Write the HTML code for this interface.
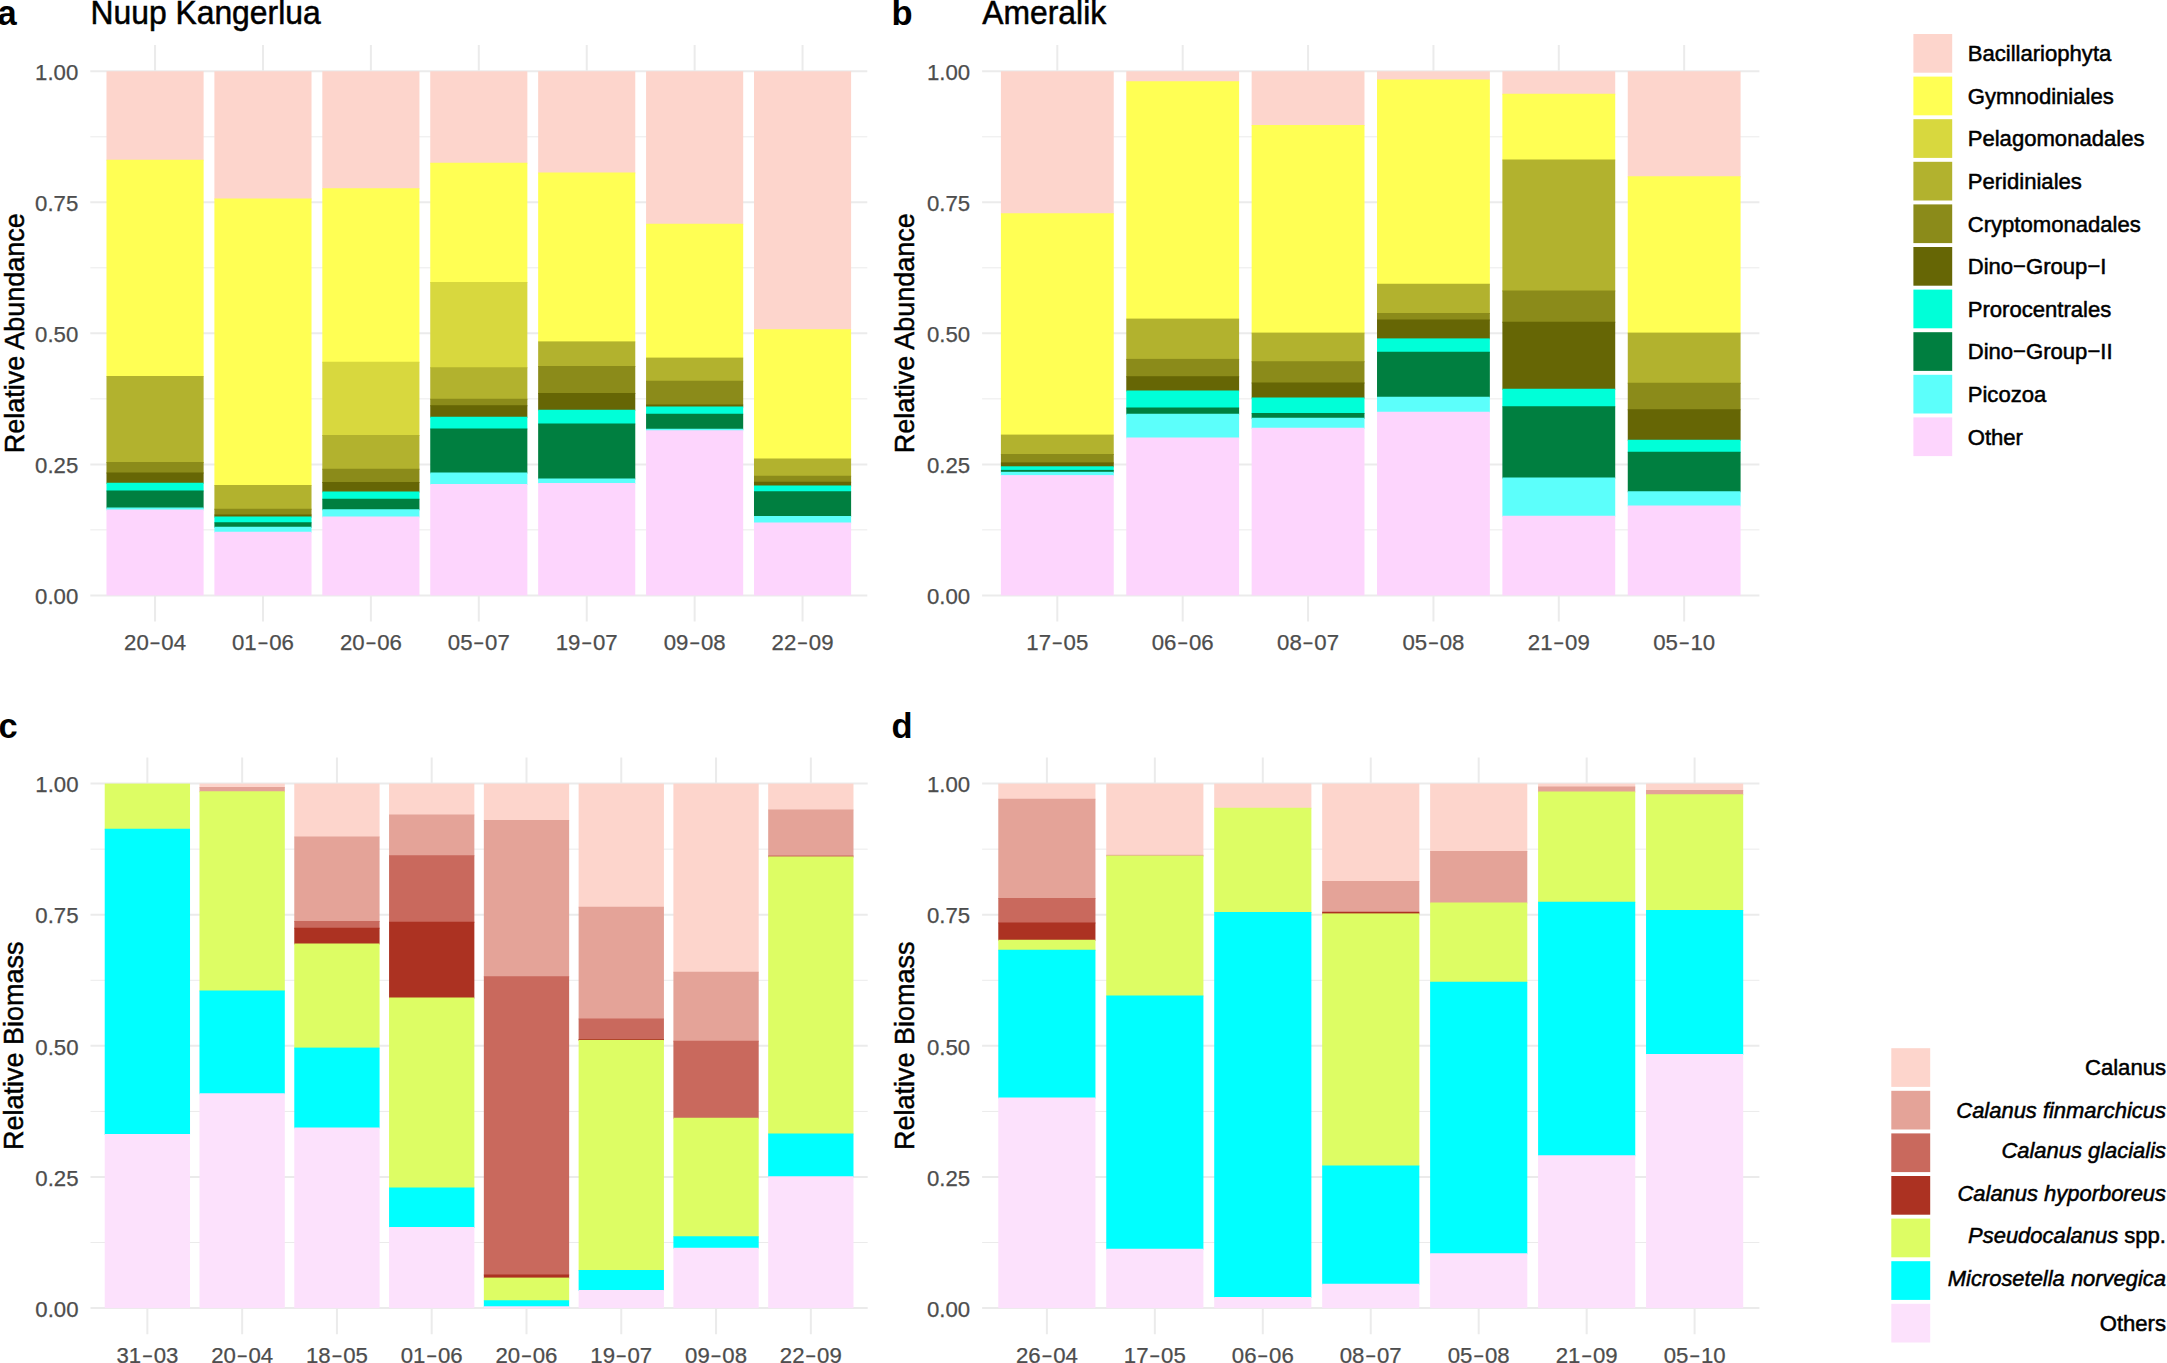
<!DOCTYPE html>
<html lang="en"><head><meta charset="utf-8"><title>Relative abundance and biomass</title>
<style>html,body{margin:0;padding:0;background:#fff}body{width:2167px;height:1363px;overflow:hidden}svg{display:block}text{font-family:"Liberation Sans",sans-serif}.tk{font-size:22.2px;fill:#4D4D4D;stroke:#4D4D4D;stroke-width:.25px}.ax{font-size:27.0px;fill:#000;stroke:#000;stroke-width:.45px}.ti{font-size:31.85px;fill:#000;stroke:#000;stroke-width:.5px}.tg{font-size:34.5px;font-weight:bold;fill:#000}.lg{font-size:22.1px;fill:#000;stroke:#000;stroke-width:.5px}.mn{font-size:17px;stroke-width:.6px}.it{font-style:italic;font-size:21.95px}</style></head><body>
<svg width="2167" height="1363" viewBox="0 0 2167 1363">
<rect x="0" y="0" width="2167" height="1363" fill="#ffffff"/>
<g>
<line x1="90.3" x2="867.3" y1="529.89" y2="529.89" stroke="#EBEBEB" stroke-width="1.0"/>
<line x1="90.3" x2="867.3" y1="398.86" y2="398.86" stroke="#EBEBEB" stroke-width="1.0"/>
<line x1="90.3" x2="867.3" y1="267.84" y2="267.84" stroke="#EBEBEB" stroke-width="1.0"/>
<line x1="90.3" x2="867.3" y1="136.81" y2="136.81" stroke="#EBEBEB" stroke-width="1.0"/>
<line x1="90.3" x2="867.3" y1="595.4" y2="595.4" stroke="#EBEBEB" stroke-width="2.0"/>
<line x1="90.3" x2="867.3" y1="464.38" y2="464.38" stroke="#EBEBEB" stroke-width="2.0"/>
<line x1="90.3" x2="867.3" y1="333.35" y2="333.35" stroke="#EBEBEB" stroke-width="2.0"/>
<line x1="90.3" x2="867.3" y1="202.32" y2="202.32" stroke="#EBEBEB" stroke-width="2.0"/>
<line x1="90.3" x2="867.3" y1="71.3" y2="71.3" stroke="#EBEBEB" stroke-width="2.0"/>
<line x1="155.05" x2="155.05" y1="45.1" y2="621.5" stroke="#EBEBEB" stroke-width="2.0"/>
<line x1="262.97" x2="262.97" y1="45.1" y2="621.5" stroke="#EBEBEB" stroke-width="2.0"/>
<line x1="370.88" x2="370.88" y1="45.1" y2="621.5" stroke="#EBEBEB" stroke-width="2.0"/>
<line x1="478.8" x2="478.8" y1="45.1" y2="621.5" stroke="#EBEBEB" stroke-width="2.0"/>
<line x1="586.72" x2="586.72" y1="45.1" y2="621.5" stroke="#EBEBEB" stroke-width="2.0"/>
<line x1="694.63" x2="694.63" y1="45.1" y2="621.5" stroke="#EBEBEB" stroke-width="2.0"/>
<line x1="802.55" x2="802.55" y1="45.1" y2="621.5" stroke="#EBEBEB" stroke-width="2.0"/>
<rect x="106.49" y="71.3" width="97.12" height="89.45" fill="#FDD5CC"/>
<rect x="106.49" y="159.75" width="97.12" height="217.25" fill="#FFFF54"/>
<rect x="106.49" y="376" width="97.12" height="87" fill="#B2B22E"/>
<rect x="106.49" y="462" width="97.12" height="11.5" fill="#8B8B1A"/>
<rect x="106.49" y="472.5" width="97.12" height="11.25" fill="#666605"/>
<rect x="106.49" y="482.75" width="97.12" height="8.75" fill="#00FFD8"/>
<rect x="106.49" y="490.5" width="97.12" height="18" fill="#007F40"/>
<rect x="106.49" y="507.5" width="97.12" height="3" fill="#5CFFFB"/>
<rect x="106.49" y="509.5" width="97.12" height="85.9" fill="#FDD5FD"/>
<rect x="214.4" y="71.3" width="97.12" height="128.2" fill="#FDD5CC"/>
<rect x="214.4" y="198.5" width="97.12" height="287.5" fill="#FFFF54"/>
<rect x="214.4" y="485" width="97.12" height="24.75" fill="#B2B22E"/>
<rect x="214.4" y="508.75" width="97.12" height="6.75" fill="#8B8B1A"/>
<rect x="214.4" y="514.5" width="97.12" height="3" fill="#666605"/>
<rect x="214.4" y="516.5" width="97.12" height="6.75" fill="#00FFD8"/>
<rect x="214.4" y="522.25" width="97.12" height="5.5" fill="#007F40"/>
<rect x="214.4" y="526.75" width="97.12" height="6" fill="#5CFFFB"/>
<rect x="214.4" y="531.75" width="97.12" height="63.65" fill="#FDD5FD"/>
<rect x="322.32" y="71.3" width="97.12" height="117.95" fill="#FDD5CC"/>
<rect x="322.32" y="188.25" width="97.12" height="174.5" fill="#FFFF54"/>
<rect x="322.32" y="361.75" width="97.12" height="74.25" fill="#D8D83E"/>
<rect x="322.32" y="435" width="97.12" height="34.75" fill="#B2B22E"/>
<rect x="322.32" y="468.75" width="97.12" height="14.25" fill="#8B8B1A"/>
<rect x="322.32" y="482" width="97.12" height="10.5" fill="#666605"/>
<rect x="322.32" y="491.5" width="97.12" height="8.25" fill="#00FFD8"/>
<rect x="322.32" y="498.75" width="97.12" height="11.5" fill="#007F40"/>
<rect x="322.32" y="509.25" width="97.12" height="8.25" fill="#5CFFFB"/>
<rect x="322.32" y="516.5" width="97.12" height="78.9" fill="#FDD5FD"/>
<rect x="430.24" y="71.3" width="97.12" height="92.45" fill="#FDD5CC"/>
<rect x="430.24" y="162.75" width="97.12" height="120.25" fill="#FFFF54"/>
<rect x="430.24" y="282" width="97.12" height="86.25" fill="#D8D83E"/>
<rect x="430.24" y="367.25" width="97.12" height="32.5" fill="#B2B22E"/>
<rect x="430.24" y="398.75" width="97.12" height="7.5" fill="#8B8B1A"/>
<rect x="430.24" y="405.25" width="97.12" height="12.5" fill="#666605"/>
<rect x="430.24" y="416.75" width="97.12" height="12.75" fill="#00FFD8"/>
<rect x="430.24" y="428.5" width="97.12" height="45" fill="#007F40"/>
<rect x="430.24" y="472.5" width="97.12" height="12.5" fill="#5CFFFB"/>
<rect x="430.24" y="484" width="97.12" height="111.4" fill="#FDD5FD"/>
<rect x="538.15" y="71.3" width="97.12" height="102.2" fill="#FDD5CC"/>
<rect x="538.15" y="172.5" width="97.12" height="169.9" fill="#FFFF54"/>
<rect x="538.15" y="341.4" width="97.12" height="25.6" fill="#B2B22E"/>
<rect x="538.15" y="366" width="97.12" height="28" fill="#8B8B1A"/>
<rect x="538.15" y="393" width="97.12" height="17.75" fill="#666605"/>
<rect x="538.15" y="409.75" width="97.12" height="14.75" fill="#00FFD8"/>
<rect x="538.15" y="423.5" width="97.12" height="56" fill="#007F40"/>
<rect x="538.15" y="478.5" width="97.12" height="5.5" fill="#5CFFFB"/>
<rect x="538.15" y="483" width="97.12" height="112.4" fill="#FDD5FD"/>
<rect x="646.07" y="71.3" width="97.12" height="153.45" fill="#FDD5CC"/>
<rect x="646.07" y="223.75" width="97.12" height="134.85" fill="#FFFF54"/>
<rect x="646.07" y="357.6" width="97.12" height="24.15" fill="#B2B22E"/>
<rect x="646.07" y="380.75" width="97.12" height="24.75" fill="#8B8B1A"/>
<rect x="646.07" y="404.5" width="97.12" height="3" fill="#666605"/>
<rect x="646.07" y="406.5" width="97.12" height="8.25" fill="#00FFD8"/>
<rect x="646.07" y="413.75" width="97.12" height="16" fill="#007F40"/>
<rect x="646.07" y="428.75" width="97.12" height="2.5" fill="#5CFFFB"/>
<rect x="646.07" y="430.25" width="97.12" height="165.15" fill="#FDD5FD"/>
<rect x="753.99" y="71.3" width="97.12" height="258.95" fill="#FDD5CC"/>
<rect x="753.99" y="329.25" width="97.12" height="130.25" fill="#FFFF54"/>
<rect x="753.99" y="458.5" width="97.12" height="18.25" fill="#B2B22E"/>
<rect x="753.99" y="475.75" width="97.12" height="7" fill="#8B8B1A"/>
<rect x="753.99" y="481.75" width="97.12" height="4.75" fill="#666605"/>
<rect x="753.99" y="485.5" width="97.12" height="6.75" fill="#00FFD8"/>
<rect x="753.99" y="491.25" width="97.12" height="25.75" fill="#007F40"/>
<rect x="753.99" y="516" width="97.12" height="7.5" fill="#5CFFFB"/>
<rect x="753.99" y="522.5" width="97.12" height="72.9" fill="#FDD5FD"/>
<text class="tk" x="78.3" y="604.1" text-anchor="end">0.00</text>
<text class="tk" x="78.3" y="473.07" text-anchor="end">0.25</text>
<text class="tk" x="78.3" y="342.05" text-anchor="end">0.50</text>
<text class="tk" x="78.3" y="211.02" text-anchor="end">0.75</text>
<text class="tk" x="78.3" y="80" text-anchor="end">1.00</text>
<text class="tk" x="155.05" y="650.2" text-anchor="middle">20<tspan class="mn" dx="1.3" dy="-0.9">−</tspan><tspan dx="1.3" dy="0.9">04</tspan></text>
<text class="tk" x="262.97" y="650.2" text-anchor="middle">01<tspan class="mn" dx="1.3" dy="-0.9">−</tspan><tspan dx="1.3" dy="0.9">06</tspan></text>
<text class="tk" x="370.88" y="650.2" text-anchor="middle">20<tspan class="mn" dx="1.3" dy="-0.9">−</tspan><tspan dx="1.3" dy="0.9">06</tspan></text>
<text class="tk" x="478.8" y="650.2" text-anchor="middle">05<tspan class="mn" dx="1.3" dy="-0.9">−</tspan><tspan dx="1.3" dy="0.9">07</tspan></text>
<text class="tk" x="586.72" y="650.2" text-anchor="middle">19<tspan class="mn" dx="1.3" dy="-0.9">−</tspan><tspan dx="1.3" dy="0.9">07</tspan></text>
<text class="tk" x="694.63" y="650.2" text-anchor="middle">09<tspan class="mn" dx="1.3" dy="-0.9">−</tspan><tspan dx="1.3" dy="0.9">08</tspan></text>
<text class="tk" x="802.55" y="650.2" text-anchor="middle">22<tspan class="mn" dx="1.3" dy="-0.9">−</tspan><tspan dx="1.3" dy="0.9">09</tspan></text>
<text class="ax" transform="translate(23.5,333.3) rotate(-90) scale(1,1.04)" text-anchor="middle">Relative Abundance</text>
<text class="tg" x="-2.4" y="24.7">a</text>
<text class="ti" transform="translate(90.5,23.8) scale(1,1.04)">Nuup Kangerlua</text>
</g>
<g>
<line x1="982.1" x2="1759.4" y1="529.89" y2="529.89" stroke="#EBEBEB" stroke-width="1.0"/>
<line x1="982.1" x2="1759.4" y1="398.86" y2="398.86" stroke="#EBEBEB" stroke-width="1.0"/>
<line x1="982.1" x2="1759.4" y1="267.84" y2="267.84" stroke="#EBEBEB" stroke-width="1.0"/>
<line x1="982.1" x2="1759.4" y1="136.81" y2="136.81" stroke="#EBEBEB" stroke-width="1.0"/>
<line x1="982.1" x2="1759.4" y1="595.4" y2="595.4" stroke="#EBEBEB" stroke-width="2.0"/>
<line x1="982.1" x2="1759.4" y1="464.38" y2="464.38" stroke="#EBEBEB" stroke-width="2.0"/>
<line x1="982.1" x2="1759.4" y1="333.35" y2="333.35" stroke="#EBEBEB" stroke-width="2.0"/>
<line x1="982.1" x2="1759.4" y1="202.32" y2="202.32" stroke="#EBEBEB" stroke-width="2.0"/>
<line x1="982.1" x2="1759.4" y1="71.3" y2="71.3" stroke="#EBEBEB" stroke-width="2.0"/>
<line x1="1057.32" x2="1057.32" y1="45.1" y2="621.5" stroke="#EBEBEB" stroke-width="2.0"/>
<line x1="1182.69" x2="1182.69" y1="45.1" y2="621.5" stroke="#EBEBEB" stroke-width="2.0"/>
<line x1="1308.06" x2="1308.06" y1="45.1" y2="621.5" stroke="#EBEBEB" stroke-width="2.0"/>
<line x1="1433.44" x2="1433.44" y1="45.1" y2="621.5" stroke="#EBEBEB" stroke-width="2.0"/>
<line x1="1558.81" x2="1558.81" y1="45.1" y2="621.5" stroke="#EBEBEB" stroke-width="2.0"/>
<line x1="1684.18" x2="1684.18" y1="45.1" y2="621.5" stroke="#EBEBEB" stroke-width="2.0"/>
<rect x="1000.91" y="71.3" width="112.83" height="142.95" fill="#FDD5CC"/>
<rect x="1000.91" y="213.25" width="112.83" height="222.35" fill="#FFFF54"/>
<rect x="1000.91" y="434.6" width="112.83" height="20.4" fill="#B2B22E"/>
<rect x="1000.91" y="454" width="112.83" height="9.4" fill="#8B8B1A"/>
<rect x="1000.91" y="462.4" width="112.83" height="4.9" fill="#666605"/>
<rect x="1000.91" y="466.3" width="112.83" height="4.6" fill="#00FFD8"/>
<rect x="1000.91" y="469.9" width="112.83" height="2.9" fill="#007F40"/>
<rect x="1000.91" y="471.8" width="112.83" height="4.3" fill="#5CFFFB"/>
<rect x="1000.91" y="475.1" width="112.83" height="120.3" fill="#FDD5FD"/>
<rect x="1126.28" y="71.3" width="112.83" height="10.95" fill="#FDD5CC"/>
<rect x="1126.28" y="81.25" width="112.83" height="238.35" fill="#FFFF54"/>
<rect x="1126.28" y="318.6" width="112.83" height="41.3" fill="#B2B22E"/>
<rect x="1126.28" y="358.9" width="112.83" height="18.35" fill="#8B8B1A"/>
<rect x="1126.28" y="376.25" width="112.83" height="15.25" fill="#666605"/>
<rect x="1126.28" y="390.5" width="112.83" height="18" fill="#00FFD8"/>
<rect x="1126.28" y="407.5" width="112.83" height="7.25" fill="#007F40"/>
<rect x="1126.28" y="413.75" width="112.83" height="24.75" fill="#5CFFFB"/>
<rect x="1126.28" y="437.5" width="112.83" height="157.9" fill="#FDD5FD"/>
<rect x="1251.65" y="71.3" width="112.83" height="54.7" fill="#FDD5CC"/>
<rect x="1251.65" y="125" width="112.83" height="208.6" fill="#FFFF54"/>
<rect x="1251.65" y="332.6" width="112.83" height="29.65" fill="#B2B22E"/>
<rect x="1251.65" y="361.25" width="112.83" height="22.25" fill="#8B8B1A"/>
<rect x="1251.65" y="382.5" width="112.83" height="16" fill="#666605"/>
<rect x="1251.65" y="397.5" width="112.83" height="16.5" fill="#00FFD8"/>
<rect x="1251.65" y="413" width="112.83" height="5.75" fill="#007F40"/>
<rect x="1251.65" y="417.75" width="112.83" height="11" fill="#5CFFFB"/>
<rect x="1251.65" y="427.75" width="112.83" height="167.65" fill="#FDD5FD"/>
<rect x="1377.02" y="71.3" width="112.83" height="9.2" fill="#FDD5CC"/>
<rect x="1377.02" y="79.5" width="112.83" height="205.25" fill="#FFFF54"/>
<rect x="1377.02" y="283.75" width="112.83" height="30.25" fill="#B2B22E"/>
<rect x="1377.02" y="313" width="112.83" height="7.5" fill="#8B8B1A"/>
<rect x="1377.02" y="319.5" width="112.83" height="19.9" fill="#666605"/>
<rect x="1377.02" y="338.4" width="112.83" height="14.35" fill="#00FFD8"/>
<rect x="1377.02" y="351.75" width="112.83" height="46" fill="#007F40"/>
<rect x="1377.02" y="396.75" width="112.83" height="16" fill="#5CFFFB"/>
<rect x="1377.02" y="411.75" width="112.83" height="183.65" fill="#FDD5FD"/>
<rect x="1502.39" y="71.3" width="112.83" height="23.45" fill="#FDD5CC"/>
<rect x="1502.39" y="93.75" width="112.83" height="66.75" fill="#FFFF54"/>
<rect x="1502.39" y="159.5" width="112.83" height="132" fill="#B2B22E"/>
<rect x="1502.39" y="290.5" width="112.83" height="32.25" fill="#8B8B1A"/>
<rect x="1502.39" y="321.75" width="112.83" height="68" fill="#666605"/>
<rect x="1502.39" y="388.75" width="112.83" height="18.5" fill="#00FFD8"/>
<rect x="1502.39" y="406.25" width="112.83" height="72.25" fill="#007F40"/>
<rect x="1502.39" y="477.5" width="112.83" height="39.25" fill="#5CFFFB"/>
<rect x="1502.39" y="515.75" width="112.83" height="79.65" fill="#FDD5FD"/>
<rect x="1627.76" y="71.3" width="112.83" height="105.95" fill="#FDD5CC"/>
<rect x="1627.76" y="176.25" width="112.83" height="157.35" fill="#FFFF54"/>
<rect x="1627.76" y="332.6" width="112.83" height="51.15" fill="#B2B22E"/>
<rect x="1627.76" y="382.75" width="112.83" height="27.5" fill="#8B8B1A"/>
<rect x="1627.76" y="409.25" width="112.83" height="31.5" fill="#666605"/>
<rect x="1627.76" y="439.75" width="112.83" height="13" fill="#00FFD8"/>
<rect x="1627.76" y="451.75" width="112.83" height="40.5" fill="#007F40"/>
<rect x="1627.76" y="491.25" width="112.83" height="15.25" fill="#5CFFFB"/>
<rect x="1627.76" y="505.5" width="112.83" height="89.9" fill="#FDD5FD"/>
<text class="tk" x="970.1" y="604.1" text-anchor="end">0.00</text>
<text class="tk" x="970.1" y="473.07" text-anchor="end">0.25</text>
<text class="tk" x="970.1" y="342.05" text-anchor="end">0.50</text>
<text class="tk" x="970.1" y="211.02" text-anchor="end">0.75</text>
<text class="tk" x="970.1" y="80" text-anchor="end">1.00</text>
<text class="tk" x="1057.32" y="650.2" text-anchor="middle">17<tspan class="mn" dx="1.3" dy="-0.9">−</tspan><tspan dx="1.3" dy="0.9">05</tspan></text>
<text class="tk" x="1182.69" y="650.2" text-anchor="middle">06<tspan class="mn" dx="1.3" dy="-0.9">−</tspan><tspan dx="1.3" dy="0.9">06</tspan></text>
<text class="tk" x="1308.06" y="650.2" text-anchor="middle">08<tspan class="mn" dx="1.3" dy="-0.9">−</tspan><tspan dx="1.3" dy="0.9">07</tspan></text>
<text class="tk" x="1433.44" y="650.2" text-anchor="middle">05<tspan class="mn" dx="1.3" dy="-0.9">−</tspan><tspan dx="1.3" dy="0.9">08</tspan></text>
<text class="tk" x="1558.81" y="650.2" text-anchor="middle">21<tspan class="mn" dx="1.3" dy="-0.9">−</tspan><tspan dx="1.3" dy="0.9">09</tspan></text>
<text class="tk" x="1684.18" y="650.2" text-anchor="middle">05<tspan class="mn" dx="1.3" dy="-0.9">−</tspan><tspan dx="1.3" dy="0.9">10</tspan></text>
<text class="ax" transform="translate(914.1,333.3) rotate(-90) scale(1,1.04)" text-anchor="middle">Relative Abundance</text>
<text class="tg" x="891.4" y="24.7">b</text>
<text class="ti" transform="translate(982.3,23.8) scale(1,1.04)">Ameralik</text>
</g>
<g>
<line x1="90.5" x2="867.7" y1="1242.54" y2="1242.54" stroke="#EBEBEB" stroke-width="1.0"/>
<line x1="90.5" x2="867.7" y1="1111.41" y2="1111.41" stroke="#EBEBEB" stroke-width="1.0"/>
<line x1="90.5" x2="867.7" y1="980.29" y2="980.29" stroke="#EBEBEB" stroke-width="1.0"/>
<line x1="90.5" x2="867.7" y1="849.16" y2="849.16" stroke="#EBEBEB" stroke-width="1.0"/>
<line x1="90.5" x2="867.7" y1="1308.1" y2="1308.1" stroke="#EBEBEB" stroke-width="2.0"/>
<line x1="90.5" x2="867.7" y1="1176.97" y2="1176.97" stroke="#EBEBEB" stroke-width="2.0"/>
<line x1="90.5" x2="867.7" y1="1045.85" y2="1045.85" stroke="#EBEBEB" stroke-width="2.0"/>
<line x1="90.5" x2="867.7" y1="914.73" y2="914.73" stroke="#EBEBEB" stroke-width="2.0"/>
<line x1="90.5" x2="867.7" y1="783.6" y2="783.6" stroke="#EBEBEB" stroke-width="2.0"/>
<line x1="147.37" x2="147.37" y1="757.4" y2="1334.3" stroke="#EBEBEB" stroke-width="2.0"/>
<line x1="242.15" x2="242.15" y1="757.4" y2="1334.3" stroke="#EBEBEB" stroke-width="2.0"/>
<line x1="336.93" x2="336.93" y1="757.4" y2="1334.3" stroke="#EBEBEB" stroke-width="2.0"/>
<line x1="431.71" x2="431.71" y1="757.4" y2="1334.3" stroke="#EBEBEB" stroke-width="2.0"/>
<line x1="526.49" x2="526.49" y1="757.4" y2="1334.3" stroke="#EBEBEB" stroke-width="2.0"/>
<line x1="621.27" x2="621.27" y1="757.4" y2="1334.3" stroke="#EBEBEB" stroke-width="2.0"/>
<line x1="716.05" x2="716.05" y1="757.4" y2="1334.3" stroke="#EBEBEB" stroke-width="2.0"/>
<line x1="810.83" x2="810.83" y1="757.4" y2="1334.3" stroke="#EBEBEB" stroke-width="2.0"/>
<rect x="104.72" y="783.6" width="85.3" height="46.15" fill="#DDFD64"/>
<rect x="104.72" y="828.75" width="85.3" height="306.25" fill="#00FFFF"/>
<rect x="104.72" y="1134" width="85.3" height="174.1" fill="#FCE1FC"/>
<rect x="199.5" y="783.6" width="85.3" height="4.4" fill="#FDD5CC"/>
<rect x="199.5" y="787" width="85.3" height="5.25" fill="#E4A398"/>
<rect x="199.5" y="791.25" width="85.3" height="200.25" fill="#DDFD64"/>
<rect x="199.5" y="990.5" width="85.3" height="103.75" fill="#00FFFF"/>
<rect x="199.5" y="1093.25" width="85.3" height="214.85" fill="#FCE1FC"/>
<rect x="294.28" y="783.6" width="85.3" height="53.9" fill="#FDD5CC"/>
<rect x="294.28" y="836.5" width="85.3" height="85.5" fill="#E4A398"/>
<rect x="294.28" y="921" width="85.3" height="7.75" fill="#C9695D"/>
<rect x="294.28" y="927.75" width="85.3" height="16.75" fill="#AC3222"/>
<rect x="294.28" y="943.5" width="85.3" height="105.1" fill="#DDFD64"/>
<rect x="294.28" y="1047.6" width="85.3" height="80.9" fill="#00FFFF"/>
<rect x="294.28" y="1127.5" width="85.3" height="180.6" fill="#FCE1FC"/>
<rect x="389.06" y="783.6" width="85.3" height="31.9" fill="#FDD5CC"/>
<rect x="389.06" y="814.5" width="85.3" height="41.75" fill="#E4A398"/>
<rect x="389.06" y="855.25" width="85.3" height="67.5" fill="#C9695D"/>
<rect x="389.06" y="921.75" width="85.3" height="76.75" fill="#AC3222"/>
<rect x="389.06" y="997.5" width="85.3" height="191" fill="#DDFD64"/>
<rect x="389.06" y="1187.5" width="85.3" height="40.5" fill="#00FFFF"/>
<rect x="389.06" y="1227" width="85.3" height="81.1" fill="#FCE1FC"/>
<rect x="483.84" y="783.6" width="85.3" height="37.4" fill="#FDD5CC"/>
<rect x="483.84" y="820" width="85.3" height="157.25" fill="#E4A398"/>
<rect x="483.84" y="976.25" width="85.3" height="299.25" fill="#C9695D"/>
<rect x="483.84" y="1274.5" width="85.3" height="4.1" fill="#AC3222"/>
<rect x="483.84" y="1277.6" width="85.3" height="23.65" fill="#DDFD64"/>
<rect x="483.84" y="1300.25" width="85.3" height="7" fill="#00FFFF"/>
<rect x="483.84" y="1306.25" width="85.3" height="1.85" fill="#FCE1FC"/>
<rect x="578.62" y="783.6" width="85.3" height="124.15" fill="#FDD5CC"/>
<rect x="578.62" y="906.75" width="85.3" height="112.75" fill="#E4A398"/>
<rect x="578.62" y="1018.5" width="85.3" height="21.5" fill="#C9695D"/>
<rect x="578.62" y="1039" width="85.3" height="1.9" fill="#AC3222"/>
<rect x="578.62" y="1039.9" width="85.3" height="231.1" fill="#DDFD64"/>
<rect x="578.62" y="1270" width="85.3" height="21" fill="#00FFFF"/>
<rect x="578.62" y="1290" width="85.3" height="18.1" fill="#FCE1FC"/>
<rect x="673.4" y="783.6" width="85.3" height="189.15" fill="#FDD5CC"/>
<rect x="673.4" y="971.75" width="85.3" height="70" fill="#E4A398"/>
<rect x="673.4" y="1040.75" width="85.3" height="78" fill="#C9695D"/>
<rect x="673.4" y="1117.75" width="85.3" height="119.5" fill="#DDFD64"/>
<rect x="673.4" y="1236.25" width="85.3" height="12.5" fill="#00FFFF"/>
<rect x="673.4" y="1247.75" width="85.3" height="60.35" fill="#FCE1FC"/>
<rect x="768.18" y="783.6" width="85.3" height="26.9" fill="#FDD5CC"/>
<rect x="768.18" y="809.5" width="85.3" height="47" fill="#E4A398"/>
<rect x="768.18" y="855.5" width="85.3" height="2" fill="#C9695D"/>
<rect x="768.18" y="856.5" width="85.3" height="278" fill="#DDFD64"/>
<rect x="768.18" y="1133.5" width="85.3" height="43.75" fill="#00FFFF"/>
<rect x="768.18" y="1176.25" width="85.3" height="131.85" fill="#FCE1FC"/>
<text class="tk" x="78.5" y="1316.8" text-anchor="end">0.00</text>
<text class="tk" x="78.5" y="1185.67" text-anchor="end">0.25</text>
<text class="tk" x="78.5" y="1054.55" text-anchor="end">0.50</text>
<text class="tk" x="78.5" y="923.43" text-anchor="end">0.75</text>
<text class="tk" x="78.5" y="792.3" text-anchor="end">1.00</text>
<text class="tk" x="147.37" y="1362.5" text-anchor="middle">31<tspan class="mn" dx="1.3" dy="-0.9">−</tspan><tspan dx="1.3" dy="0.9">03</tspan></text>
<text class="tk" x="242.15" y="1362.5" text-anchor="middle">20<tspan class="mn" dx="1.3" dy="-0.9">−</tspan><tspan dx="1.3" dy="0.9">04</tspan></text>
<text class="tk" x="336.93" y="1362.5" text-anchor="middle">18<tspan class="mn" dx="1.3" dy="-0.9">−</tspan><tspan dx="1.3" dy="0.9">05</tspan></text>
<text class="tk" x="431.71" y="1362.5" text-anchor="middle">01<tspan class="mn" dx="1.3" dy="-0.9">−</tspan><tspan dx="1.3" dy="0.9">06</tspan></text>
<text class="tk" x="526.49" y="1362.5" text-anchor="middle">20<tspan class="mn" dx="1.3" dy="-0.9">−</tspan><tspan dx="1.3" dy="0.9">06</tspan></text>
<text class="tk" x="621.27" y="1362.5" text-anchor="middle">19<tspan class="mn" dx="1.3" dy="-0.9">−</tspan><tspan dx="1.3" dy="0.9">07</tspan></text>
<text class="tk" x="716.05" y="1362.5" text-anchor="middle">09<tspan class="mn" dx="1.3" dy="-0.9">−</tspan><tspan dx="1.3" dy="0.9">08</tspan></text>
<text class="tk" x="810.83" y="1362.5" text-anchor="middle">22<tspan class="mn" dx="1.3" dy="-0.9">−</tspan><tspan dx="1.3" dy="0.9">09</tspan></text>
<text class="ax" transform="translate(23,1045.85) rotate(-90) scale(1,1.04)" text-anchor="middle">Relative Biomass</text>
<text class="tg" x="-1.6" y="737.8">c</text>
</g>
<g>
<line x1="982.1" x2="1759.4" y1="1242.54" y2="1242.54" stroke="#EBEBEB" stroke-width="1.0"/>
<line x1="982.1" x2="1759.4" y1="1111.41" y2="1111.41" stroke="#EBEBEB" stroke-width="1.0"/>
<line x1="982.1" x2="1759.4" y1="980.29" y2="980.29" stroke="#EBEBEB" stroke-width="1.0"/>
<line x1="982.1" x2="1759.4" y1="849.16" y2="849.16" stroke="#EBEBEB" stroke-width="1.0"/>
<line x1="982.1" x2="1759.4" y1="1308.1" y2="1308.1" stroke="#EBEBEB" stroke-width="2.0"/>
<line x1="982.1" x2="1759.4" y1="1176.97" y2="1176.97" stroke="#EBEBEB" stroke-width="2.0"/>
<line x1="982.1" x2="1759.4" y1="1045.85" y2="1045.85" stroke="#EBEBEB" stroke-width="2.0"/>
<line x1="982.1" x2="1759.4" y1="914.73" y2="914.73" stroke="#EBEBEB" stroke-width="2.0"/>
<line x1="982.1" x2="1759.4" y1="783.6" y2="783.6" stroke="#EBEBEB" stroke-width="2.0"/>
<line x1="1046.88" x2="1046.88" y1="757.4" y2="1334.3" stroke="#EBEBEB" stroke-width="2.0"/>
<line x1="1154.83" x2="1154.83" y1="757.4" y2="1334.3" stroke="#EBEBEB" stroke-width="2.0"/>
<line x1="1262.79" x2="1262.79" y1="757.4" y2="1334.3" stroke="#EBEBEB" stroke-width="2.0"/>
<line x1="1370.75" x2="1370.75" y1="757.4" y2="1334.3" stroke="#EBEBEB" stroke-width="2.0"/>
<line x1="1478.71" x2="1478.71" y1="757.4" y2="1334.3" stroke="#EBEBEB" stroke-width="2.0"/>
<line x1="1586.67" x2="1586.67" y1="757.4" y2="1334.3" stroke="#EBEBEB" stroke-width="2.0"/>
<line x1="1694.62" x2="1694.62" y1="757.4" y2="1334.3" stroke="#EBEBEB" stroke-width="2.0"/>
<rect x="998.29" y="783.6" width="97.16" height="16.15" fill="#FDD5CC"/>
<rect x="998.29" y="798.75" width="97.16" height="100.25" fill="#E4A398"/>
<rect x="998.29" y="898" width="97.16" height="25.5" fill="#C9695D"/>
<rect x="998.29" y="922.5" width="97.16" height="18.25" fill="#AC3222"/>
<rect x="998.29" y="939.75" width="97.16" height="11" fill="#DDFD64"/>
<rect x="998.29" y="949.75" width="97.16" height="148.75" fill="#00FFFF"/>
<rect x="998.29" y="1097.5" width="97.16" height="210.6" fill="#FCE1FC"/>
<rect x="1106.25" y="783.6" width="97.16" height="72.2" fill="#FDD5CC"/>
<rect x="1106.25" y="854.8" width="97.16" height="1.8" fill="#E4A398"/>
<rect x="1106.25" y="855.6" width="97.16" height="140.9" fill="#DDFD64"/>
<rect x="1106.25" y="995.5" width="97.16" height="254.25" fill="#00FFFF"/>
<rect x="1106.25" y="1248.75" width="97.16" height="59.35" fill="#FCE1FC"/>
<rect x="1214.21" y="783.6" width="97.16" height="25.15" fill="#FDD5CC"/>
<rect x="1214.21" y="807.75" width="97.16" height="105.25" fill="#DDFD64"/>
<rect x="1214.21" y="912" width="97.16" height="386" fill="#00FFFF"/>
<rect x="1214.21" y="1297" width="97.16" height="11.1" fill="#FCE1FC"/>
<rect x="1322.17" y="783.6" width="97.16" height="98.4" fill="#FDD5CC"/>
<rect x="1322.17" y="881" width="97.16" height="31.75" fill="#E4A398"/>
<rect x="1322.17" y="911.75" width="97.16" height="2.65" fill="#AC3222"/>
<rect x="1322.17" y="913.4" width="97.16" height="253.1" fill="#DDFD64"/>
<rect x="1322.17" y="1165.5" width="97.16" height="119.25" fill="#00FFFF"/>
<rect x="1322.17" y="1283.75" width="97.16" height="24.35" fill="#FCE1FC"/>
<rect x="1430.13" y="783.6" width="97.16" height="68.4" fill="#FDD5CC"/>
<rect x="1430.13" y="851" width="97.16" height="52.5" fill="#E4A398"/>
<rect x="1430.13" y="902.5" width="97.16" height="80.25" fill="#DDFD64"/>
<rect x="1430.13" y="981.75" width="97.16" height="272.5" fill="#00FFFF"/>
<rect x="1430.13" y="1253.25" width="97.16" height="54.85" fill="#FCE1FC"/>
<rect x="1538.09" y="783.6" width="97.16" height="3.9" fill="#FDD5CC"/>
<rect x="1538.09" y="786.5" width="97.16" height="6" fill="#E4A398"/>
<rect x="1538.09" y="791.5" width="97.16" height="111.25" fill="#DDFD64"/>
<rect x="1538.09" y="901.75" width="97.16" height="254.5" fill="#00FFFF"/>
<rect x="1538.09" y="1155.25" width="97.16" height="152.85" fill="#FCE1FC"/>
<rect x="1646.04" y="783.6" width="97.16" height="7.4" fill="#FDD5CC"/>
<rect x="1646.04" y="790" width="97.16" height="5.25" fill="#E4A398"/>
<rect x="1646.04" y="794.25" width="97.16" height="116.75" fill="#DDFD64"/>
<rect x="1646.04" y="910" width="97.16" height="145" fill="#00FFFF"/>
<rect x="1646.04" y="1054" width="97.16" height="254.1" fill="#FCE1FC"/>
<text class="tk" x="970.1" y="1316.8" text-anchor="end">0.00</text>
<text class="tk" x="970.1" y="1185.67" text-anchor="end">0.25</text>
<text class="tk" x="970.1" y="1054.55" text-anchor="end">0.50</text>
<text class="tk" x="970.1" y="923.43" text-anchor="end">0.75</text>
<text class="tk" x="970.1" y="792.3" text-anchor="end">1.00</text>
<text class="tk" x="1046.88" y="1362.5" text-anchor="middle">26<tspan class="mn" dx="1.3" dy="-0.9">−</tspan><tspan dx="1.3" dy="0.9">04</tspan></text>
<text class="tk" x="1154.83" y="1362.5" text-anchor="middle">17<tspan class="mn" dx="1.3" dy="-0.9">−</tspan><tspan dx="1.3" dy="0.9">05</tspan></text>
<text class="tk" x="1262.79" y="1362.5" text-anchor="middle">06<tspan class="mn" dx="1.3" dy="-0.9">−</tspan><tspan dx="1.3" dy="0.9">06</tspan></text>
<text class="tk" x="1370.75" y="1362.5" text-anchor="middle">08<tspan class="mn" dx="1.3" dy="-0.9">−</tspan><tspan dx="1.3" dy="0.9">07</tspan></text>
<text class="tk" x="1478.71" y="1362.5" text-anchor="middle">05<tspan class="mn" dx="1.3" dy="-0.9">−</tspan><tspan dx="1.3" dy="0.9">08</tspan></text>
<text class="tk" x="1586.67" y="1362.5" text-anchor="middle">21<tspan class="mn" dx="1.3" dy="-0.9">−</tspan><tspan dx="1.3" dy="0.9">09</tspan></text>
<text class="tk" x="1694.62" y="1362.5" text-anchor="middle">05<tspan class="mn" dx="1.3" dy="-0.9">−</tspan><tspan dx="1.3" dy="0.9">10</tspan></text>
<text class="ax" transform="translate(914.4,1045.85) rotate(-90) scale(1,1.04)" text-anchor="middle">Relative Biomass</text>
<text class="tg" x="891.6" y="737.8">d</text>
</g>
<g>
<rect x="1913.4" y="34" width="38.8" height="38.7" fill="#FDD5CC"/>
<text class="lg" transform="translate(1967.7,61.2) scale(1,1.04)">Bacillariophyta</text>
<rect x="1913.4" y="76.6" width="38.8" height="38.7" fill="#FFFF54"/>
<text class="lg" transform="translate(1967.7,103.8) scale(1,1.04)">Gymnodiniales</text>
<rect x="1913.4" y="119.2" width="38.8" height="38.7" fill="#D8D83E"/>
<text class="lg" transform="translate(1967.7,146.4) scale(1,1.04)">Pelagomonadales</text>
<rect x="1913.4" y="161.8" width="38.8" height="38.7" fill="#B2B22E"/>
<text class="lg" transform="translate(1967.7,189) scale(1,1.04)">Peridiniales</text>
<rect x="1913.4" y="204.4" width="38.8" height="38.7" fill="#8B8B1A"/>
<text class="lg" transform="translate(1967.7,231.6) scale(1,1.04)">Cryptomonadales</text>
<rect x="1913.4" y="247" width="38.8" height="38.7" fill="#666605"/>
<text class="lg" transform="translate(1967.7,274.2) scale(1,1.04)">Dino−Group−I</text>
<rect x="1913.4" y="289.6" width="38.8" height="38.7" fill="#00FFD8"/>
<text class="lg" transform="translate(1967.7,316.8) scale(1,1.04)">Prorocentrales</text>
<rect x="1913.4" y="332.2" width="38.8" height="38.7" fill="#007F40"/>
<text class="lg" transform="translate(1967.7,359.4) scale(1,1.04)">Dino−Group−II</text>
<rect x="1913.4" y="374.8" width="38.8" height="38.7" fill="#5CFFFB"/>
<text class="lg" transform="translate(1967.7,402) scale(1,1.04)">Picozoa</text>
<rect x="1913.4" y="417.4" width="38.8" height="38.7" fill="#FDD5FD"/>
<text class="lg" transform="translate(1967.7,444.6) scale(1,1.04)">Other</text>
</g>
<g>
<rect x="1891.3" y="1048.2" width="38.9" height="38.7" fill="#FDD5CC"/>
<text class="lg" transform="translate(2166,1075.35) scale(1,1.04)" text-anchor="end">Calanus</text>
<rect x="1891.3" y="1090.8" width="38.9" height="38.7" fill="#E4A398"/>
<text class="lg it" transform="translate(2166,1118.15) scale(1,1.04)" text-anchor="end">Calanus finmarchicus</text>
<rect x="1891.3" y="1133.4" width="38.9" height="38.7" fill="#C9695D"/>
<text class="lg it" transform="translate(2166,1158.45) scale(1,1.04)" text-anchor="end">Calanus glacialis</text>
<rect x="1891.3" y="1176" width="38.9" height="38.7" fill="#AC3222"/>
<text class="lg it" transform="translate(2166,1200.85) scale(1,1.04)" text-anchor="end">Calanus hyporboreus</text>
<rect x="1891.3" y="1218.6" width="38.9" height="38.7" fill="#DDFD64"/>
<text class="lg" transform="translate(2166,1243.25) scale(1,1.04)" text-anchor="end"><tspan class="it">Pseudocalanus</tspan> spp.</text>
<rect x="1891.3" y="1261.2" width="38.9" height="38.7" fill="#00FFFF"/>
<text class="lg it" transform="translate(2166,1286.05) scale(1,1.04)" text-anchor="end">Microsetella norvegica</text>
<rect x="1891.3" y="1303.8" width="38.9" height="38.7" fill="#FCE1FC"/>
<text class="lg" transform="translate(2166,1331.35) scale(1,1.04)" text-anchor="end">Others</text>
</g>
</svg></body></html>
